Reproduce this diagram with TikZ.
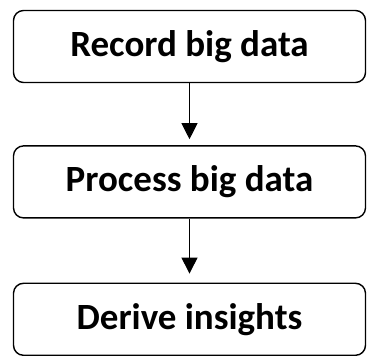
\documentclass[tikz,border=0pt]{standalone}
\usepackage{fontspec}
\setmainfont{Carlito}
\usetikzlibrary{positioning, arrows.meta}

\begin{document}
\begin{tikzpicture}[x=1pt, y=1pt]
                % Define the styles for the steps and the arrows
                \tikzstyle{stepbox}=[draw, line width=1.4pt, rounded corners=10pt, minimum width=352pt, minimum height=72pt, font=\fontsize{37}{40}\selectfont\bfseries];
                \tikzstyle{flow}=[line width=1pt, -{Triangle[length=16pt, width=16pt]}];
                
                % Fix the margins of the picture
                \useasboundingbox (0,0) rectangle (368,-356);
                
                % Draw the three steps
                \node[stepbox] (record) at (189.5,-46.5) {Record big data};
                \node[stepbox, below=62pt of record] (process) {Process big data};
                \node[stepbox, below=64pt of process] (derive) {Derive insights};
                
                % Connect the steps, leaving a small gap above the next box
                \draw[flow] (record) -- ([yshift=6pt]process.north);
                \draw[flow] (process) -- ([yshift=9pt]derive.north);
            \end{tikzpicture}
\end{document}
